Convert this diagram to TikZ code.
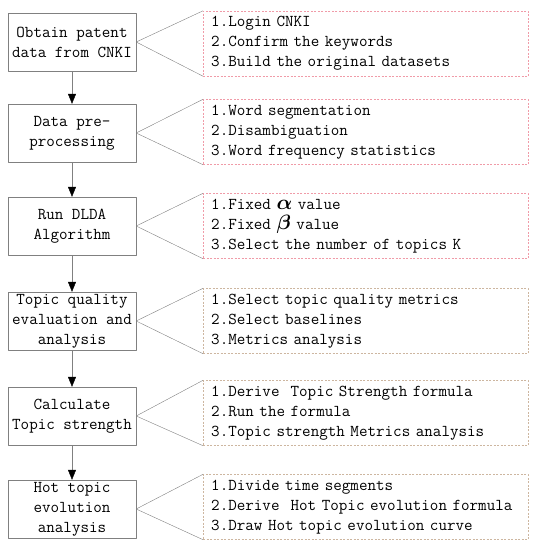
\documentclass[tikz,border=0pt]{standalone}
\usepackage{fontspec}
\usetikzlibrary{arrows.meta}
\definecolor{boxgray}{RGB}{128,128,128}
\definecolor{dashpink}{RGB}{240,155,168}
\definecolor{dashtan}{RGB}{205,182,160}
\begin{document}
\begin{tikzpicture}[x=1pt,y=-1pt,font=\ttfamily\fontsize{16.6}{20}\selectfont,line join=round,
 stage/.style={draw=boxgray,minimum width=128pt,minimum height=58pt,align=center,inner sep=1pt},
 detail/.style={draw=#1,dash pattern=on 2pt off 1.5pt,minimum width=325pt,minimum height=65pt,
  text width=309pt,inner xsep=8pt,align=left,anchor=west},
 flow/.style={draw=boxgray,-{Triangle[black,width=8pt,length=10pt]}}]
 			\useasboundingbox (0,0) rectangle (534,550);
 			% stages
 			\node[stage] (obtain) at (72,42) {Obtain patent\\data from CNKI};
 			\node[stage] (prep) at (72,133) {Data pre-\\processing};
 			\node[stage] (dlda) at (72,226) {Run DLDA\\Algorithm};
 			\node[stage] (quality) at (72,321) {Topic quality\\evaluation and\\analysis};
 			\node[stage] (strength) at (72,416) {Calculate\\Topic strength};
 			\node[stage] (hot) at (72,509) {Hot topic\\evolution\\analysis};
 			% details
 			\node[detail=dashpink] (d-obtain) at (203,43.5)
 			{1.Login CNKI\\2.Confirm the keywords\\3.Build the original datasets};
 			\node[detail=dashpink] (d-prep) at (203,132)
 			{1.Word segmentation\\2.Disambiguation\\3.Word frequency statistics};
 			\node[detail=dashpink] (d-dlda) at (203,226)
 			{1.Fixed {\fontsize{21}{20}\selectfont\boldmath$\alpha$} value\\
 			 2.Fixed {\fontsize{21}{20}\selectfont\boldmath$\beta$} value\\
 			 3.Select the number of topics K};
 			\node[detail=dashtan] (d-quality) at (203,321)
 			{1.Select topic quality metrics\\2.Select baselines\\3.Metrics analysis};
 			\node[detail=dashtan] (d-strength) at (203,413)
 			{1.Derive\ \ Topic Strength formula\\2.Run the formula\\3.Topic strength Metrics analysis};
 			\node[detail=dashtan] (d-hot) at (203,507)
 			{1.Divide time segments\\2.Derive\ \ Hot Topic evolution formula\\3.Draw Hot topic evolution curve};
 			% connectors
 			\foreach \s in {obtain,prep,dlda,quality,strength,hot}
 			\draw[boxgray] (d-\s.north west)--(\s.east)--(d-\s.south west);
 			\foreach \a/\b in {obtain/prep,prep/dlda,dlda/quality,quality/strength,strength/hot}
 			\draw[flow] (\a)--(\b);
 	\end{tikzpicture}
\end{document}
